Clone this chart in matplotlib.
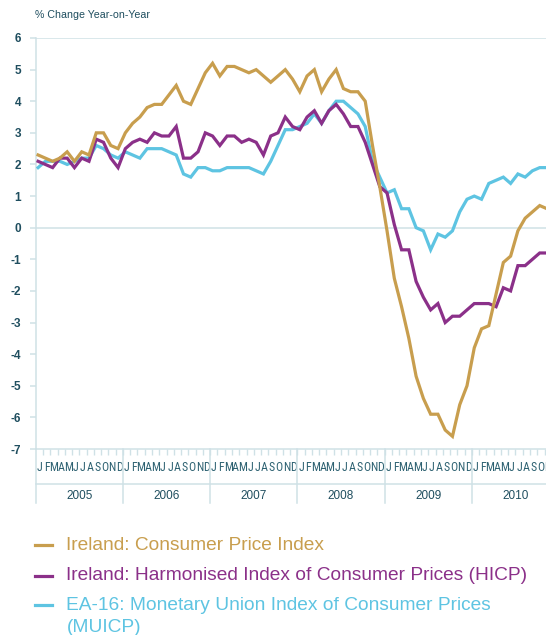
import numpy as np
import matplotlib
matplotlib.use("Agg")
import matplotlib.pyplot as plt
from matplotlib.lines import Line2D
from matplotlib import font_manager
from matplotlib.font_manager import FontProperties

# ---------------- data ----------------
years = ["2005", "2006", "2007", "2008", "2009", "2010"]
month_letters = ["J", "F", "M", "A", "M", "J", "J", "A", "S", "O", "N", "D"]

cpi = [2.3, 2.2, 2.1, 2.2, 2.4, 2.1, 2.4, 2.3, 3.0, 3.0, 2.6, 2.5,
       3.0, 3.3, 3.5, 3.8, 3.9, 3.9, 4.2, 4.5, 4.0, 3.9, 4.4, 4.9,
       5.2, 4.8, 5.1, 5.1, 5.0, 4.9, 5.0, 4.8, 4.6, 4.8, 5.0, 4.7,
       4.3, 4.8, 5.0, 4.3, 4.7, 5.0, 4.4, 4.3, 4.3, 4.0, 2.6, 1.3,
       -0.1, -1.6, -2.5, -3.5, -4.7, -5.4, -5.9, -5.9, -6.4, -6.6, -5.6, -5.0,
       -3.8, -3.2, -3.1, -2.1, -1.1, -0.9, -0.1, 0.3, 0.5, 0.7, 0.6]

hicp = [2.1, 2.0, 1.9, 2.2, 2.2, 1.9, 2.2, 2.1, 2.8, 2.7, 2.2, 1.9,
        2.5, 2.7, 2.8, 2.7, 3.0, 2.9, 2.9, 3.2, 2.2, 2.2, 2.4, 3.0,
        2.9, 2.6, 2.9, 2.9, 2.7, 2.8, 2.7, 2.3, 2.9, 3.0, 3.5, 3.2,
        3.1, 3.5, 3.7, 3.3, 3.7, 3.9, 3.6, 3.2, 3.2, 2.7, 2.0, 1.3,
        1.1, 0.1, -0.7, -0.7, -1.7, -2.2, -2.6, -2.4, -3.0, -2.8, -2.8, -2.6,
        -2.4, -2.4, -2.4, -2.5, -1.9, -2.0, -1.2, -1.2, -1.0, -0.8, -0.8]

muicp = [1.9, 2.1, 2.1, 2.1, 2.0, 2.1, 2.2, 2.2, 2.6, 2.5, 2.3, 2.2,
         2.4, 2.3, 2.2, 2.5, 2.5, 2.5, 2.4, 2.3, 1.7, 1.6, 1.9, 1.9,
         1.8, 1.8, 1.9, 1.9, 1.9, 1.9, 1.8, 1.7, 2.1, 2.6, 3.1, 3.1,
         3.2, 3.3, 3.6, 3.3, 3.7, 4.0, 4.0, 3.8, 3.6, 3.2, 2.1, 1.6,
         1.1, 1.2, 0.6, 0.6, 0.0, -0.1, -0.7, -0.2, -0.3, -0.1, 0.5, 0.9,
         1.0, 0.9, 1.4, 1.5, 1.6, 1.4, 1.7, 1.6, 1.8, 1.9, 1.9]

series_labels = ["Ireland: Consumer Price Index",
                 "Ireland: Harmonised Index of Consumer Prices (HICP)",
                 "EA-16: Monetary Union Index of Consumer Prices\n(MUICP)"]

# ---------------- style ----------------
GOLD = "#C89E4E"
PURPLE = "#8B3089"
BLUE = "#5EC4E2"
DARK = "#1F4E5F"
MONTHC = "#2E6272"
LIGHT = "#CFE1E6"
FONT = ["Liberation Sans", "DejaVu Sans"]

# look for a condensed / narrow face for the month letters
month_fp = None
prefs = ["liberation sans narrow", "roboto condensed", "dejavu sans condensed",
         "noto sans condensed", "open sans condensed", "arial narrow"]
entries = font_manager.fontManager.ttflist
best = None
for f in entries:
    name = f.name.lower()
    fname = f.fname.lower()
    is_narrow = ("narrow" in name or "condensed" in name or "condensed" in fname
                 or "narrow" in fname or str(f.stretch) in ("condensed", "semi-condensed",
                                                            "extra-condensed"))
    if not is_narrow or "bold" in fname or "italic" in fname or "oblique" in fname:
        continue
    if "extra" in fname or "ultra" in fname or "light" in fname or "thin" in fname:
        continue
    rank = len(prefs)
    for r, p in enumerate(prefs):
        if p in name or p.replace(" ", "") in fname.replace("-", ""):
            rank = r
            break
    if best is None or rank < best[0]:
        best = (rank, f.fname)
if best is not None:
    month_fp = FontProperties(fname=best[1], size=8.6)
else:
    month_fp = FontProperties(family=FONT, size=7.1)

W, H = 546, 635
fig = plt.figure(figsize=(W / 100, H / 100), dpi=100, facecolor="white")

def fx(x):
    return x / W

def fy(y):
    return 1 - y / H

left_px, right_px, top_px, bot_px = 35.7, 559.1, 38.0, 449.0
ax = fig.add_axes([fx(left_px), fy(bot_px), fx(right_px - left_px), (bot_px - top_px) / H])
ax.set_facecolor("white")

n_months = 12 * len(years)
ax.set_xlim(0, n_months)
ax.set_ylim(-7, 6)

x = np.arange(len(cpi)) + 0.33
lw = 2.3
ax.plot(x, muicp, color=BLUE, lw=lw, solid_joinstyle="miter", zorder=3)
ax.plot(x, hicp, color=PURPLE, lw=lw, solid_joinstyle="miter", zorder=4)
ax.plot(x, cpi, color=GOLD, lw=lw, solid_joinstyle="miter", zorder=5)

# grid lines at 0 and top
for yv in (0, 6):
    ax.axhline(yv, color=LIGHT, lw=1.1, zorder=1)

for s in ("top", "right"):
    ax.spines[s].set_visible(False)
for s in ("left", "bottom"):
    ax.spines[s].set_color(LIGHT)
    ax.spines[s].set_linewidth(1.1)

ax.set_yticks(range(-7, 7))
ax.set_yticklabels([str(v) for v in range(-7, 7)])
ax.tick_params(axis="y", length=4.3, width=1.1, color=LIGHT, pad=6.3,
               labelcolor=DARK, labelsize=8.5)
for t in ax.get_yticklabels():
    t.set_fontfamily(FONT)
    t.set_fontweight("bold")

# month labels (major) and month boundary ticks (minor)
centers = np.arange(n_months) + 0.5
ax.set_xticks(centers)
ax.set_xticklabels(month_letters * len(years))
ax.set_xticks(np.arange(1, n_months), minor=True)
ax.tick_params(axis="x", which="major", length=0, pad=8.3, labelcolor=MONTHC)
ax.tick_params(axis="x", which="minor", length=4.3, width=1.0, color=LIGHT)
for t in ax.get_xticklabels():
    t.set_fontproperties(month_fp)

# year band
xt = ax.get_xaxis_transform()
axh = bot_px - top_px
sep_y = -(483.7 - bot_px) / axh
end_y = -(503.0 - bot_px) / axh
year_y = -(496.0 - bot_px) / axh
ax.plot([0, n_months], [sep_y, sep_y], transform=xt, color=LIGHT, lw=1.1, clip_on=False)
for k in range(len(years)):
    ax.plot([12 * k, 12 * k], [0, end_y], transform=xt, color=LIGHT, lw=1.1, clip_on=False)
    ax.text(12 * k + 6, year_y, years[k], transform=xt, ha="center", va="center",
            fontsize=8.5, color=DARK, family=FONT)

# axis title
fig.text(fx(35.0), fy(15.0), "% Change Year-on-Year", ha="left", va="center",
         fontsize=7.7, color=DARK, family=FONT)

# legend
leg_colors = [GOLD, PURPLE, BLUE]
leg_rows = [545.0, 575.5, 605.0]
line_gap = 22.0
for lab, col, yr in zip(series_labels, leg_colors, leg_rows):
    fig.add_artist(Line2D([fx(35), fx(52)], [fy(yr), fy(yr)], color=col, lw=2.3))
    for j, part in enumerate(lab.split("\n")):
        fig.text(fx(66.5), fy(yr + j * line_gap), part, ha="left", va="center",
                 fontsize=13.8, color=col, family=FONT)

fig.savefig("out.png", dpi=100, facecolor="white")
